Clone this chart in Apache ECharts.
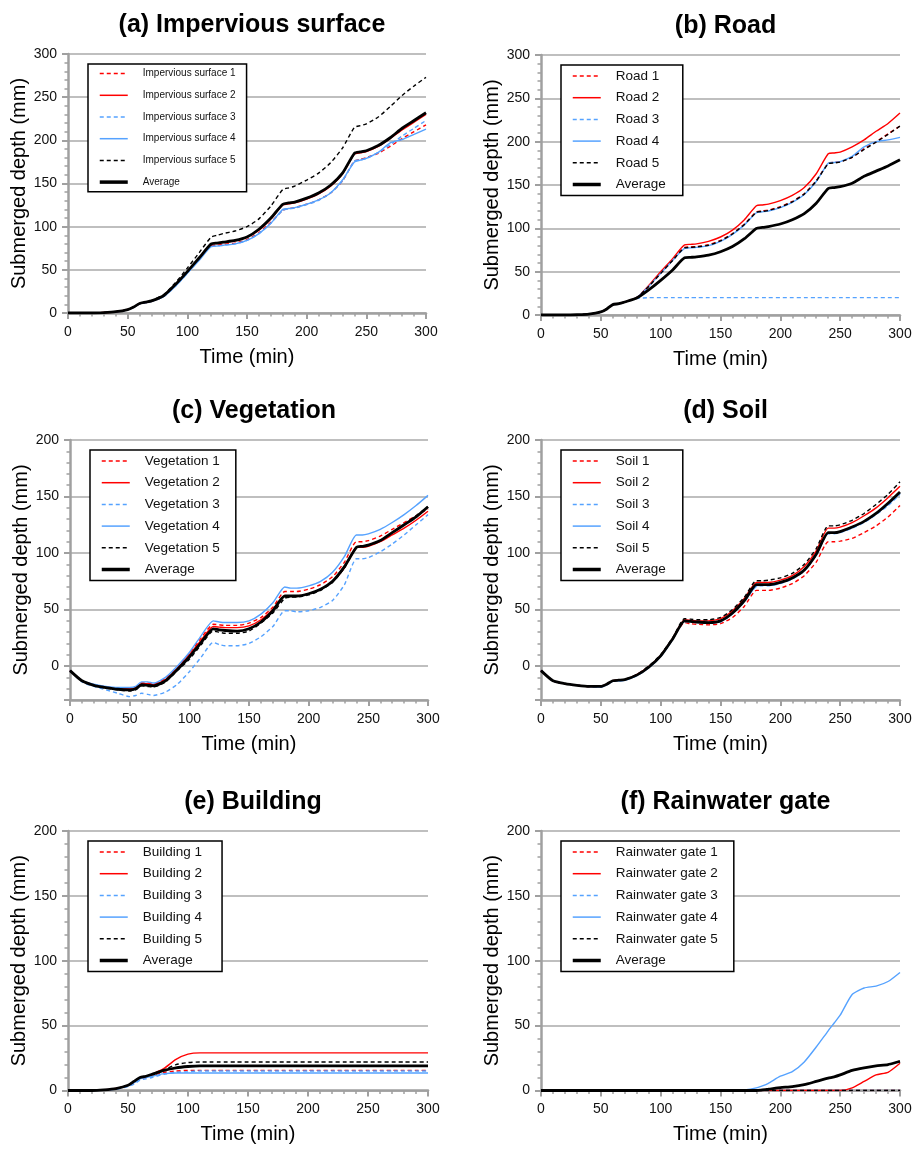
<!DOCTYPE html>
<html><head><meta charset="utf-8">
<script src="https://cdn.jsdelivr.net/npm/echarts@6/dist/echarts.min.js"></script>
<style>html,body{margin:0;padding:0;background:#fff}#c{width:921px;height:1150px}</style>
</head><body><div id="c"></div>
<script>
// ---------- data ----------
const times = [0,10,20,30,40,50,55,60,65,70,80,90,100,110,120,125,130,140,150,160,170,180,185,190,200,210,220,230,240,245,250,260,270,280,290,300];
const xTicks = [0,50,100,150,200,250,300];

// (a) Impervious surface
const imp1 = [0,0,0,0.4,1.3,3.8,6.5,10.5,12,13.5,19,32,47,62,78,78.5,79.5,81,85,93,105,119,121,122,126,131,139,153,176,178,180,185,193,202,210,218];
const imp2 = [0,0,0,0.5,1.5,4,7,11,12.5,14,20,33,48,64,80,80.5,81.5,83.5,88,96,109,125,126.5,127.5,132,138,147,161,184,185.5,187,193,202,212,221,230];
const imp3 = [0,0,0,0.4,1.3,3.8,6.5,10.5,12,13.5,19,31,46,62,77,77.5,78.5,80,84,92,104,119,120.5,121.5,125.5,130.5,139,153,176,177.5,179,186,195,205,214,223];
const imp4 = [0,0,0,0.4,1.3,3.8,6.5,10.5,12,13.5,19,31,46,61,77,77.5,78.5,80,84,92,104,120,121,122,126,131,139,154,175,177,179,186,197,201,207,213];
const imp5 = [0,0,0,0.5,1.5,4,7,11,12.5,14.5,21,35,52,70,88,90,92,95,100,109,124,143,145,147,154,162,174,191,215,217,219,227,239,252,263,273];
const impAvg = [0,0,0,0.5,1.5,4,7,11,12.5,14,20,33,48,64,80,81,82,84,88,97,110,126,127.5,128.5,133,139,148,162,185,186.5,188,194,203,214,223,232];

// (b) Road
const road1 = [0,0,0,0.3,1,3.5,7,12,13,15,20,33,48,63,78,78.5,79,81,86,94,105,119,120,121,125,131,140,155,175,176,177,182,192,200,209,218];
const road2 = [0,0,0,0.3,1,3.5,7,12,13,15,20,34,50,65,81,81.5,82,85,90,98,110,126,127,128,132,138,147,163,186,187,188,194,202,212,221,233];
const road3 = [0,0,0,0.3,1,3.5,7,12,13,15,19,20,20,20,20,20,20,20,20,20,20,20,20,20,20,20,20,20,20,20,20,20,20,20,20,20];
const road4 = [0,0,0,0.3,1,3.5,7,12,13,15,20,33,48,63,77,77.5,78,80,85,93,104,118,119,120,124,130,139,154,175,176,177,183,194,200,202,205];
const road5 = [0,0,0,0.3,1,3.5,7,12,13,15,20,33,48,63,77.5,78,78.5,80.5,85.5,93.5,104.5,118.5,119.5,120.5,124.5,130.5,139.5,154.5,174.5,175.5,176.5,182,191,199.5,208.5,218];
const roadAvg = [0,0,0,0.3,1,3.5,7,12,13,15,19.5,29,40,52,66,66.5,67,69,73,79,88,100,101,102,105,110,117,129,146,147,148,152,160,166,172,179];

// (c) Vegetation
const veg1 = [-4,-13,-16.5,-18.5,-19.5,-20,-19,-15,-15,-16,-11,-1,11,25,37,36.5,36,36,38,43,52,66,66,66,68,72,79,92,110,110,111,115,121,127,133,139];
const veg2 = [-4,-13,-16.5,-18.5,-20,-20,-19,-15.5,-15.5,-16.5,-12,-2,10,23,35,34.5,34,34,35.5,41,50,62,62,62,64,68,75,87,105,105,106,110,116,122,129,137];
const veg3 = [-4,-14,-18,-21,-24,-27,-26,-24,-25,-26,-23,-16,-5,8,21,19,18,18,20,26,35,49,49,48,49,52,58,72,95,95,96,101,108,116,125,134];
const veg4 = [-4,-13,-16,-18,-19,-19,-18,-14,-14,-15,-10,0,12,27,40,39,38.5,38.5,40,46,56,70,69,69,71,75,83,97,116,116,117,121,127,134,142,151];
const veg5 = [-4,-13,-17,-19.5,-21,-22,-21,-17.5,-18,-18.5,-14,-4,6,19,31,30,29,29,31,38,47,60,61,61,63,67,74,87,105,106,107,111,118,125,133,141];
const vegAvg = [-4,-13,-17,-19,-20.5,-21,-20,-16.5,-17,-17.5,-13,-3,8,21,33,32,31.5,31,33,39,49,62,62,62,64,68,75,88,105,106,107,111,118,125,132,141];

// (d) Soil
const soil1 = [-4,-13,-15.5,-17,-18,-18,-16,-13,-12.5,-12,-8,-1,9,24,38.5,37.5,37,36.5,37.5,43,53,67,67,67,69,73,80,92,110,110,110.5,113,118,124,132,142];
const soil2 = [-4,-13,-15.5,-17,-18,-18,-16,-13,-12.5,-12,-7.5,-0.5,9.5,24.5,41,40.5,40,40,42,49,60,74,74,74,76,80,88,102,122,122,123,127,133,140,149,159];
const soil3 = [-4,-13,-15.5,-17,-18,-18.5,-16.5,-13.5,-13,-12.5,-8.5,-1.5,8.5,23.5,39.5,39,38.5,38,39,46,57,70.5,71,71,73,77,84,98,117,117,118,122,127,134,142,152];
const soil4 = [-4,-13,-15.5,-17,-18,-18.5,-16.5,-13.5,-13,-12.5,-8.5,-1.5,8.5,23.5,40,39.5,39,38.5,39.5,46.5,57.5,71,71.5,71.5,73.5,77.5,84.5,98.5,117.5,117.5,118.5,122.5,128,135,143,153];
const soil5 = [-4,-13,-15.5,-17,-18,-18,-16,-13,-12.5,-12,-7.5,0,10,25,42,41.5,41,41,43,50,61,75.5,75.5,76,78,82,90,104,124,124,125,129,135,143,152,163];
const soilAvg = [-4,-13,-15.5,-17,-18,-18,-16,-13,-12.5,-12,-8,-1,9,24,40,39.5,39,38.5,40,47,58,72,72,72,74,78,85,99,118,118,119,123,128,135,144,154];

// (e) Building
const bld1 = [0,0,0,0.4,1.3,3.5,6,9,10,11.5,14,15,15.5,15.5,15.5,15.5,15.5,15.5,15.5,15.5,15.5,15.5,15.5,15.5,15.5,15.5,15.5,15.5,15.5,15.5,15.5,15.5,15.5,15.5,15.5,15.5];
const bld2 = [0,0,0,0.5,1.5,4,7,10,11,12.5,17,24,28,29,29,29,29,29,29,29,29,29,29,29,29,29,29,29,29,29,29,29,29,29,29,29];
const bld3 = [0,0,0,0.3,1,3,5,8,9,10,12.5,14,14.5,15,15,15,15,15,15,15,15,15,15,15,15,15,15,15,15,15,15,15,15,15,15,15];
const bld4 = [0,0,0,0.4,1.3,3.5,6,9,10,11,13,13.5,13.5,13.5,13.5,13.5,13.5,13.5,13.5,13.5,13.5,13.5,13.5,13.5,13.5,13.5,13.5,13.5,13.5,13.5,13.5,13.5,13.5,13.5,13.5,13.5];
const bld5 = [0,0,0,0.5,1.5,4,7,10,11,12.5,16,20,21.5,22,22,22,22,22,22,22,22,22,22,22,22,22,22,22,22,22,22,22,22,22,22,22];
const bldAvg = [0,0,0,0.5,1.5,4,7,10,11,12.5,15.5,17.5,18.5,19,19,19,19,19,19,19,19,19,19,19,19,19,19,19,19,19,19,19,19,19,19,19];

// (f) Rainwater gate
const gate1 = [0,0,0,0,0,0,0,0,0,0,0,0,0,0,0,0,0,0,0,0,0,0,0,0,0,0,0,0,0,0,0,0,0,0,0,0];
const gate2 = [0,0,0,0,0,0,0,0,0,0,0,0,0,0,0,0,0,0,0,0,0,0,0,0,0,0,0,0,0,0,0,2,7,12,14,21];
const gate3 = [0,0,0,0,0,0,0,0,0,0,0,0,0,0,0,0,0,0,0,0,0,0,0,0,0,0,0,0,0,0,0,0,0,0,0,0];
const gate4 = [0,0,0,0,0,0,0,0,0,0,0,0,0,0,0,0,0,0,0,0,0.5,2,3.5,5.5,11,14.5,22,33.5,46,52,58,74,79,80.5,84,91];
const gate5 = [0,0,0,0,0,0,0,0,0,0,0,0,0,0,0,0,0,0,0,0,0,0,0,0,0,0,0,0,0,0,0,0,0,0,0,0];
const gateAvg = [0,0,0,0,0,0,0,0,0,0,0,0,0,0,0,0,0,0,0,0,0,0,0.5,1,2.2,3,4.5,7,9.5,10.5,12,15.5,17.5,19,20,22.5];

// ---------- layout / style ----------
const RED = '#ff0000', BLUE = '#55a2ff', BLACK = '#000000';
const lineStyles = [
  {color: RED, type: [4, 3], width: 1.4},
  {color: RED, type: 'solid', width: 1.4},
  {color: BLUE, type: [4, 3], width: 1.4},
  {color: BLUE, type: 'solid', width: 1.4},
  {color: BLACK, type: [4, 3], width: 1.4},
  {color: BLACK, type: 'solid', width: 2.8}
];
const panels = [
  {title: '(a) Impervious surface', label: 'Impervious surface', data: [imp1, imp2, imp3, imp4, imp5, impAvg],
   grid: {left: 68, top: 54, width: 358, height: 259}, ymin: 0, ymax: 300, leg: {fs: 10, pr: 11, gap: 10.5}},
  {title: '(b) Road', label: 'Road', data: [road1, road2, road3, road4, road5, roadAvg],
   grid: {left: 541, top: 55, width: 359, height: 260}, ymin: 0, ymax: 300, leg: {fs: 13.5, pr: 17, gap: 7.7}},
  {title: '(c) Vegetation', label: 'Vegetation', data: [veg1, veg2, veg3, veg4, veg5, vegAvg],
   grid: {left: 70, top: 440, width: 358, height: 260}, ymin: -30, ymax: 200, leg: {fs: 13.5, pr: 16, gap: 7.7}},
  {title: '(d) Soil', label: 'Soil', data: [soil1, soil2, soil3, soil4, soil5, soilAvg],
   grid: {left: 541, top: 440, width: 359, height: 260}, ymin: -30, ymax: 200, leg: {fs: 13.5, pr: 17, gap: 7.7}},
  {title: '(e) Building', label: 'Building', data: [bld1, bld2, bld3, bld4, bld5, bldAvg],
   grid: {left: 68, top: 831, width: 360, height: 259.5}, ymin: 0, ymax: 200, leg: {fs: 13.5, pr: 20, gap: 7.7}},
  {title: '(f) Rainwater gate', label: 'Rainwater gate', data: [gate1, gate2, gate3, gate4, gate5, gateAvg],
   grid: {left: 541, top: 831, width: 359, height: 259.5}, ymin: 0, ymax: 200, leg: {fs: 13.5, pr: 16, gap: 7.7}}
];

const AX = '#a0a0a0';
const FONT = 'Liberation Sans, Arial';
const option = {animation: false, backgroundColor: '#fff', title: [], grid: [], xAxis: [], yAxis: [], legend: [], series: []};
panels.forEach((p, k) => {
  const g = p.grid;
  option.grid.push(g);
  option.title.push({text: p.title, left: g.left + g.width / 2, top: g.top - 46, textAlign: 'center',
    textStyle: {fontFamily: FONT, fontWeight: 'bold', fontSize: 25, color: '#000'}});
  option.xAxis.push({type: 'value', gridIndex: k, min: xTicks[0], max: xTicks[xTicks.length - 1], interval: xTicks[1] - xTicks[0],
    name: 'Time (min)', nameLocation: 'middle', nameGap: 34,
    nameTextStyle: {fontFamily: FONT, fontSize: 20, color: '#000'},
    axisLine: {onZero: false, lineStyle: {color: AX, width: 2.5}},
    axisTick: {length: 6, lineStyle: {color: AX, width: 2}},
    minorTick: {show: true, splitNumber: 5, length: 3.5, lineStyle: {color: AX, width: 1.5}},
    axisLabel: {fontFamily: FONT, fontSize: 14, color: '#111', margin: 12},
    splitLine: {show: false}});
  const ya = {type: 'value', gridIndex: k, min: p.ymin, max: p.ymax,
    name: 'Submerged depth (mm)', nameLocation: 'middle', nameGap: 38,
    nameTextStyle: {fontFamily: FONT, fontSize: 20, color: '#000'},
    axisLine: {onZero: false, lineStyle: {color: AX, width: 2.5}},
    axisTick: {length: 6, lineStyle: {color: AX, width: 2}},
    minorTick: {show: true, splitNumber: 5, length: 3.5, lineStyle: {color: AX, width: 1.5}},
    axisLabel: {fontFamily: FONT, fontSize: 14, color: '#111', margin: 11, showMinLabel: p.ymin === 0},
    splitLine: {show: true, lineStyle: {color: '#aaaaaa', width: 1.5}}};
  if (p.ymin === 0) ya.interval = 50; else { ya.minInterval = 50; ya.maxInterval = 50; ya.splitNumber = 5; }
  option.yAxis.push(ya);
  const names = [1, 2, 3, 4, 5].map(i => p.label + ' ' + i).concat(['Average']);
  option.legend.push({orient: 'vertical', left: g.left + 20, top: g.top + 10,
    padding: [4, p.leg.pr, 4, 10], itemGap: p.leg.gap, itemWidth: 28, itemHeight: 14,
    borderColor: '#000', borderWidth: 1.5, backgroundColor: '#fff', selectedMode: false,
    itemStyle: {opacity: 0, borderWidth: 0},
    textStyle: {fontFamily: FONT, fontSize: p.leg.fs, color: '#111', padding: [0, 0, 0, 10]},
    data: names.map((n, i) => ({name: n, itemStyle: {opacity: 0, borderWidth: 0}, lineStyle: {width: i === 5 ? 3.5 : 1.5}}))});
  names.forEach((n, i) => {
    option.series.push({type: 'line', name: n, xAxisIndex: k, yAxisIndex: k, symbol: 'none', smooth: 0.2,
      lineStyle: lineStyles[i], itemStyle: {color: lineStyles[i].color},
      data: times.map((t, j) => [t, p.data[i][j]]), z: i === 5 ? 3 : 2});
  });
});
const chart = echarts.init(document.getElementById('c'), null, {renderer: 'canvas'});
chart.setOption(option);
</script>
</body></html>
